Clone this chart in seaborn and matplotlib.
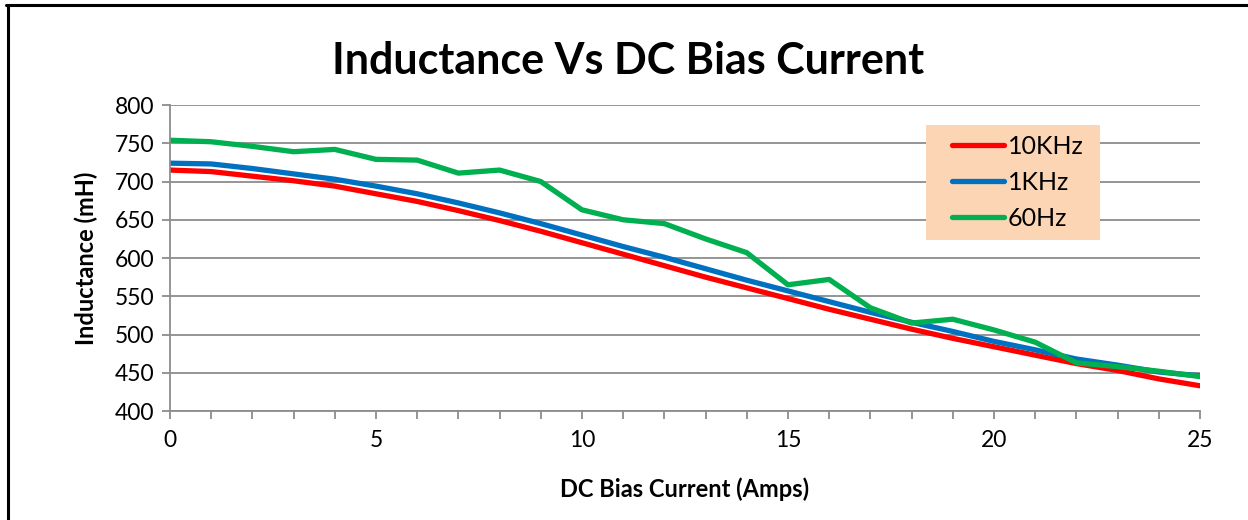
import matplotlib.pyplot as plt
import pandas as pd
import seaborn as sns
from matplotlib.patches import Rectangle
from matplotlib.lines import Line2D

# Data
current = list(range(26))
l_10khz = [715, 713, 707, 701, 694, 684, 674, 662, 649, 635, 620, 605, 590,
           575, 561, 547, 533, 520, 507, 495, 484, 473, 462, 453, 442, 433]
l_1khz = [724, 723, 717, 710, 703, 694, 684, 672, 659, 645, 630, 615, 601,
          586, 571, 557, 543, 529, 516, 504, 491, 480, 468, 460, 451, 446]
l_60hz = [754, 752, 746, 739, 742, 729, 728, 711, 715, 700, 663, 650, 645,
          625, 607, 565, 572, 535, 515, 520, 506, 490, 463, 458, 452, 445]
series_names = ['10KHz', '1KHz', '60Hz']
colors = ['#FF0000', '#0070C0', '#00B050']

df = pd.DataFrame({'current': current, '10KHz': l_10khz, '1KHz': l_1khz, '60Hz': l_60hz})
df_long = df.melt(id_vars='current', var_name='freq', value_name='inductance')

sns.set_style('white')
plt.rcParams['font.family'] = ['Lato', 'DejaVu Sans']
plt.rcParams['text.color'] = 'black'
plt.rcParams['axes.labelcolor'] = 'black'
plt.rcParams['xtick.labelcolor'] = 'black'
plt.rcParams['ytick.labelcolor'] = 'black'

fig = plt.figure(figsize=(12.48, 5.2), dpi=100)
ax = fig.add_axes([0.1362, 0.2096, 0.8253, 0.5884])

sns.lineplot(data=df_long, x='current', y='inductance', hue='freq',
             hue_order=series_names, palette=colors, linewidth=3.8,
             ax=ax, solid_capstyle='round', solid_joinstyle='round')

ax.set_xlim(0, 25)
ax.set_ylim(400, 800)
ax.set_xticks(range(0, 26, 5))
ax.set_xticks(range(26), minor=True)
ax.set_yticks(range(400, 801, 50))
ax.yaxis.grid(True, color='#8c8c8c', linewidth=1.3)
ax.xaxis.grid(False)
ax.set_axisbelow(True)
for s in ['top', 'right']:
    ax.spines[s].set_visible(False)
for s in ['left', 'bottom']:
    ax.spines[s].set_color('#8c8c8c')
    ax.spines[s].set_linewidth(1.3)
ax.tick_params(axis='both', which='both', direction='out', color='#8c8c8c',
               width=1.3, length=6, labelsize=16.5, bottom=True, left=True)
ax.tick_params(axis='x', pad=8)
ax.tick_params(axis='y', pad=5)

ax.set_xlabel('DC Bias Current (Amps)', fontsize=17, fontweight='bold', labelpad=19)
ax.set_ylabel('Inductance (mH)', fontsize=17, fontweight='bold', labelpad=12)
fig.suptitle('Inductance Vs DC Bias Current', x=0.503, y=0.922, fontsize=31,
             fontweight='bold')

# Legend background box
ax.add_patch(Rectangle((0.734, 0.559), 0.169, 0.376, transform=ax.transAxes,
                       facecolor='#FCD5B5', edgecolor='none', zorder=3))
leg = ax.legend(loc='center', bbox_to_anchor=(0.823, 0.747), frameon=False,
                fontsize=18, handlelength=2.1, handletextpad=0.15,
                labelspacing=0.52, borderpad=0)
leg.set_zorder(4)
for line in leg.get_lines():
    line.set_linewidth(3.8)
    line.set_solid_capstyle('round')

# Chart border (top and left edges visible)
fig.add_artist(Line2D([6 / 1248, 1], [1 - 5 / 520, 1 - 5 / 520],
                      transform=fig.transFigure, color='black', linewidth=2.2))
fig.add_artist(Line2D([7.5 / 1248, 7.5 / 1248], [0, 1 - 5 / 520],
                      transform=fig.transFigure, color='black', linewidth=2.2))

fig.savefig('out.png', dpi=100)
